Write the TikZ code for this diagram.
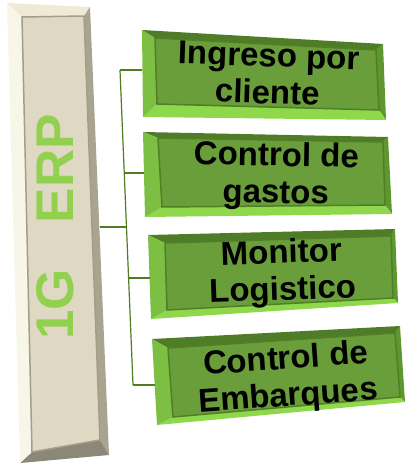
\documentclass[tikz,border=0pt]{standalone}
\usepackage{fontspec}
\setmainfont{Liberation Sans}
\usetikzlibrary{calc}
\definecolor{gface}{HTML}{6A9E3A}
\definecolor{gtop}{HTML}{4F7D27}
\definecolor{gright}{HTML}{5E9630}
\definecolor{gbottom}{HTML}{8FD84C}
\definecolor{gleft}{HTML}{7CBF43}
\definecolor{gedge}{HTML}{507F28}
\definecolor{gline}{HTML}{4E7D23}
\definecolor{cface}{HTML}{DFD8C3}
\definecolor{ctop}{HTML}{EEEAD6}
\definecolor{cright}{HTML}{A8A490}
\definecolor{cbottom}{HTML}{8C8878}
\definecolor{cleft}{HTML}{F8F6E8}
\definecolor{cedge}{HTML}{A39E8A}
\definecolor{erpgreen}{HTML}{92D050}
\newcommand\drawbevel[7]{%
  \fill[#2] (#1A)--(#1B)--(#1b)--(#1a)--cycle;
  \fill[#3] (#1B)--(#1C)--(#1c)--(#1b)--cycle;
  \fill[#4] (#1C)--(#1D)--(#1d)--(#1c)--cycle;
  \fill[#5] (#1D)--(#1A)--(#1a)--(#1d)--cycle;
  \fill[#6,draw=#7,line width=1.5pt] (#1a)--(#1b)--(#1c)--(#1d)--cycle;}
\tikzset{
  boxtext/.style={font=\bfseries\fontsize{33}{37}\selectfont, text=black, align=center, inner sep=0pt},
  conn/.style={draw=gline, line width=1.2pt}
}
\begin{document}
\begin{tikzpicture}[x=1pt,y=-1pt]
\useasboundingbox (0,0) rectangle (409,466);
% left bar
\coordinate (barA) at (7,3);   \coordinate (barB) at (90,7);
\coordinate (barC) at (109,455); \coordinate (barD) at (20,463);
\coordinate (bara) at (22,17); \coordinate (barb) at (84,16);
\coordinate (barc) at (100,440); \coordinate (bard) at (32,452);
\drawbevel{bar}{ctop}{cright}{cbottom}{cleft}{cface}{cedge}
\node[font=\bfseries\fontsize{53}{53}\selectfont, text=erpgreen, rotate=90, inner sep=0pt] (erp) at (55,227) {1G\hspace{46pt}ERP};
% boxes
\coordinate (b1A) at (142,30);  \coordinate (b1B) at (383,44);
\coordinate (b1C) at (386,120); \coordinate (b1D) at (143,117);
\coordinate (b1a) at (155,38);  \coordinate (b1b) at (376,50);
\coordinate (b1c) at (379,110); \coordinate (b1d) at (157,104);
\drawbevel{b1}{gtop}{gright}{gbottom}{gleft}{gface}{gedge}
\coordinate (b2A) at (143,132); \coordinate (b2B) at (388,137);
\coordinate (b2C) at (392,214); \coordinate (b2D) at (145,217);
\coordinate (b2a) at (158,138); \coordinate (b2b) at (383,142);
\coordinate (b2c) at (385,205); \coordinate (b2d) at (162,207);
\drawbevel{b2}{gtop}{gright}{gbottom}{gleft}{gface}{gedge}
\coordinate (b3A) at (148,235); \coordinate (b3B) at (395,229);
\coordinate (b3C) at (398,303); \coordinate (b3D) at (151,319);
\coordinate (b3a) at (165,243); \coordinate (b3b) at (391,236);
\coordinate (b3c) at (393,298); \coordinate (b3d) at (167,310);
\drawbevel{b3}{gtop}{gright}{gbottom}{gleft}{gface}{gedge}
\coordinate (b4A) at (152,339); \coordinate (b4B) at (400,326);
\coordinate (b4C) at (405,402); \coordinate (b4D) at (157,425);
\coordinate (b4a) at (168,348); \coordinate (b4b) at (395,333);
\coordinate (b4c) at (400,397); \coordinate (b4d) at (173,417);
\drawbevel{b4}{gtop}{gright}{gbottom}{gleft}{gface}{gedge}
% texts
\node[boxtext, rotate=-2] (t1) at (268,74) {Ingreso por\\cliente};
\node[boxtext, rotate=-1] (t2) at (276,176) {Control de\\gastos};
\node[boxtext, rotate=2] (t3) at (282,273) {Monitor\\Logistico};
\node[boxtext, rotate=4] (t4) at (287,379) {Control de\\Embarques};
% connectors
\coordinate (barR) at (100,227);
\coordinate (trT) at (120,70);
\coordinate (tr2) at (124,173);
\coordinate (trM) at (125.5,227);
\coordinate (tr3) at (128,278);
\coordinate (trB) at (133,385);
\coordinate (e1) at (142,70);
\coordinate (e2) at (144,173);
\coordinate (e3) at (150,278);
\coordinate (e4) at (155,385);
\draw[conn] (barR) -- (trM);
\draw[conn] (trT) -- (trB);
\draw[conn] (trT) -- (e1);
\draw[conn] (tr2) -- (e2);
\draw[conn] (tr3) -- (e3);
\draw[conn] (trB) -- (e4);
\end{tikzpicture}
\end{document}
